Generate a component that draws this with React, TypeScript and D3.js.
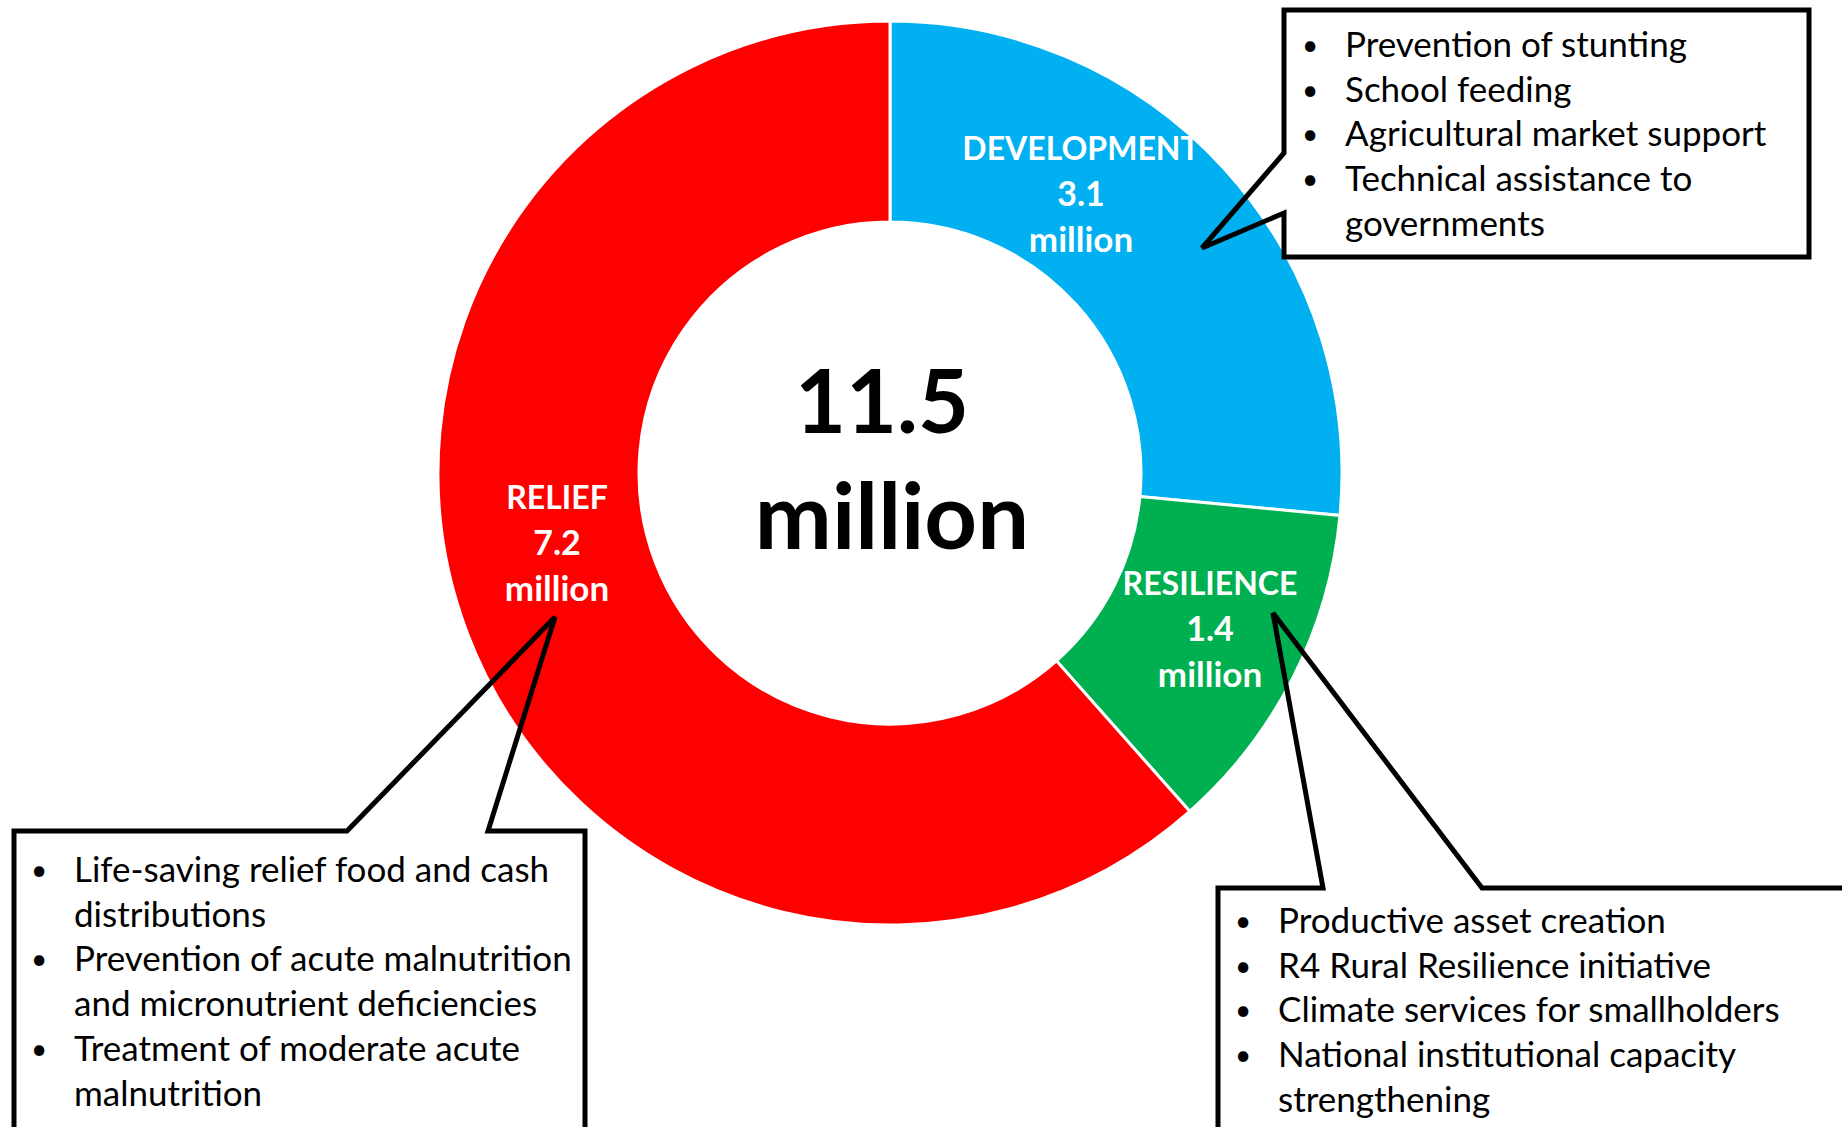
import React from "react";
import * as d3 from "d3";

// ---------- data ----------
const categories = ["DEVELOPMENT", "RESILIENCE", "RELIEF"];
const values = [3.1, 1.4, 7.2];
const valueLabels = ["3.1", "1.4", "7.2"];
const unitLabel = "million";
const totalLabel = "11.5";
const sliceColors = ["#00B0F0", "#00B050", "#FF0000"];

const developmentItems = [
  ["Prevention of stunting"],
  ["School feeding"],
  ["Agricultural market support"],
  ["Technical assistance to", "governments"],
];
const resilienceItems = [
  ["Productive asset creation"],
  ["R4 Rural Resilience initiative"],
  ["Climate services for smallholders"],
  ["National institutional capacity", "strengthening"],
];
const reliefItems = [
  ["Life-saving relief food and cash", "distributions"],
  ["Prevention of acute malnutrition", "and micronutrient deficiencies"],
  ["Treatment of moderate acute", "malnutrition"],
];

// ---------- layout ----------
const W = 1842;
const H = 1127;
const CX = 890;
const CY = 473;
const R_OUT = 452;
const R_IN = 251;
const FONT = "Lato, 'Open Sans', sans-serif";
const LIST_SIZE = 35;
const BULLET_SIZE = 28;
const LIST_LH = 44.7;
const LABEL_SIZE = 32;
const LABEL_LH = 46;

const labelAnchors = [
  { x: 1081, y: 160 },
  { x: 1210, y: 595 },
  { x: 557, y: 509 },
];

const callouts = [
  {
    items: developmentItems,
    bulletX: 1310,
    textX: 1345,
    firstBaseline: 57,
    points: [
      [1284, 213], [1202, 248], [1284, 153], [1284, 10], [1809, 10], [1809, 257], [1284, 257], [1284, 213],
    ],
    closed: true,
  },
  {
    items: reliefItems,
    bulletX: 39,
    textX: 74,
    firstBaseline: 882,
    points: [
      [14, 1140], [14, 831], [347, 831], [555, 617], [488, 831], [585, 831], [585, 1140],
    ],
    closed: false,
  },
  {
    items: resilienceItems,
    bulletX: 1243,
    textX: 1278,
    firstBaseline: 933,
    points: [
      [1218, 1140], [1218, 888], [1323, 888], [1273, 613], [1482, 888], [1860, 888],
    ],
    closed: false,
  },
];

export default function App() {
  const pie = d3.pie<number>().sort(null).value((d) => d);
  const arcs = pie(values);
  const arcGen = d3.arc<d3.PieArcDatum<number>>().innerRadius(R_IN).outerRadius(R_OUT);
  const lineGen = d3.line();

  return (
    <svg
      width={W}
      height={H}
      viewBox={`0 0 ${W} ${H}`}
      style={{ position: "absolute", left: 0, top: 0, background: "#fff" }}
    >
      <rect x={0} y={0} width={W} height={H} fill="#fff" />
      <g transform={`translate(${CX},${CY})`}>
        {arcs.map((a, i) => (
          <path key={i} d={arcGen(a) || ""} fill={sliceColors[i]} stroke="#fff" strokeWidth={3} />
        ))}
      </g>

      {/* slice labels */}
      {arcs.map((a, i) => (
        <text
          key={"l" + i}
          x={labelAnchors[i].x}
          y={labelAnchors[i].y}
          textAnchor="middle"
          fill="#fff"
          fontFamily={FONT}
          fontWeight={700}
          fontSize={LABEL_SIZE}
        >
          <tspan x={labelAnchors[i].x}>{categories[i]}</tspan>
          <tspan x={labelAnchors[i].x} dy={LABEL_LH} fontSize={34}>{valueLabels[i]}</tspan>
          <tspan x={labelAnchors[i].x} dy={LABEL_LH} fontSize={35}>{unitLabel}</tspan>
        </text>
      ))}

      {/* centre total */}
      <text x={882} y={433} textAnchor="middle" fontFamily={FONT} fontWeight={700} fontSize={88} fill="#000">
        {totalLabel}
      </text>
      <text x={892} y={549} textAnchor="middle" fontFamily={FONT} fontWeight={700} fontSize={92} fill="#000">
        {unitLabel}
      </text>

      {/* callouts */}
      {callouts.map((c, ci) => {
        let line = 0;
        const rows: JSX.Element[] = [];
        c.items.forEach((item, ii) => {
          item.forEach((t, ti) => {
            const y = c.firstBaseline + line * LIST_LH;
            if (ti === 0) {
              rows.push(
                <text key={`b${ii}`} x={c.bulletX} y={y - 2} textAnchor="middle" fontFamily={FONT} fontSize={BULLET_SIZE} fill="#000">
                  •
                </text>
              );
            }
            rows.push(
              <text key={`t${ii}-${ti}`} x={c.textX} y={y} fontFamily={FONT} fontSize={LIST_SIZE} fill="#000">
                {t}
              </text>
            );
            line++;
          });
        });
        const d = (lineGen(c.points as [number, number][]) || "") + (c.closed ? "Z" : "");
        return (
          <g key={"c" + ci}>
            <path d={d} fill="none" stroke="#000" strokeWidth={5} strokeLinejoin="miter" />
            {rows}
          </g>
        );
      })}
    </svg>
  );
}
